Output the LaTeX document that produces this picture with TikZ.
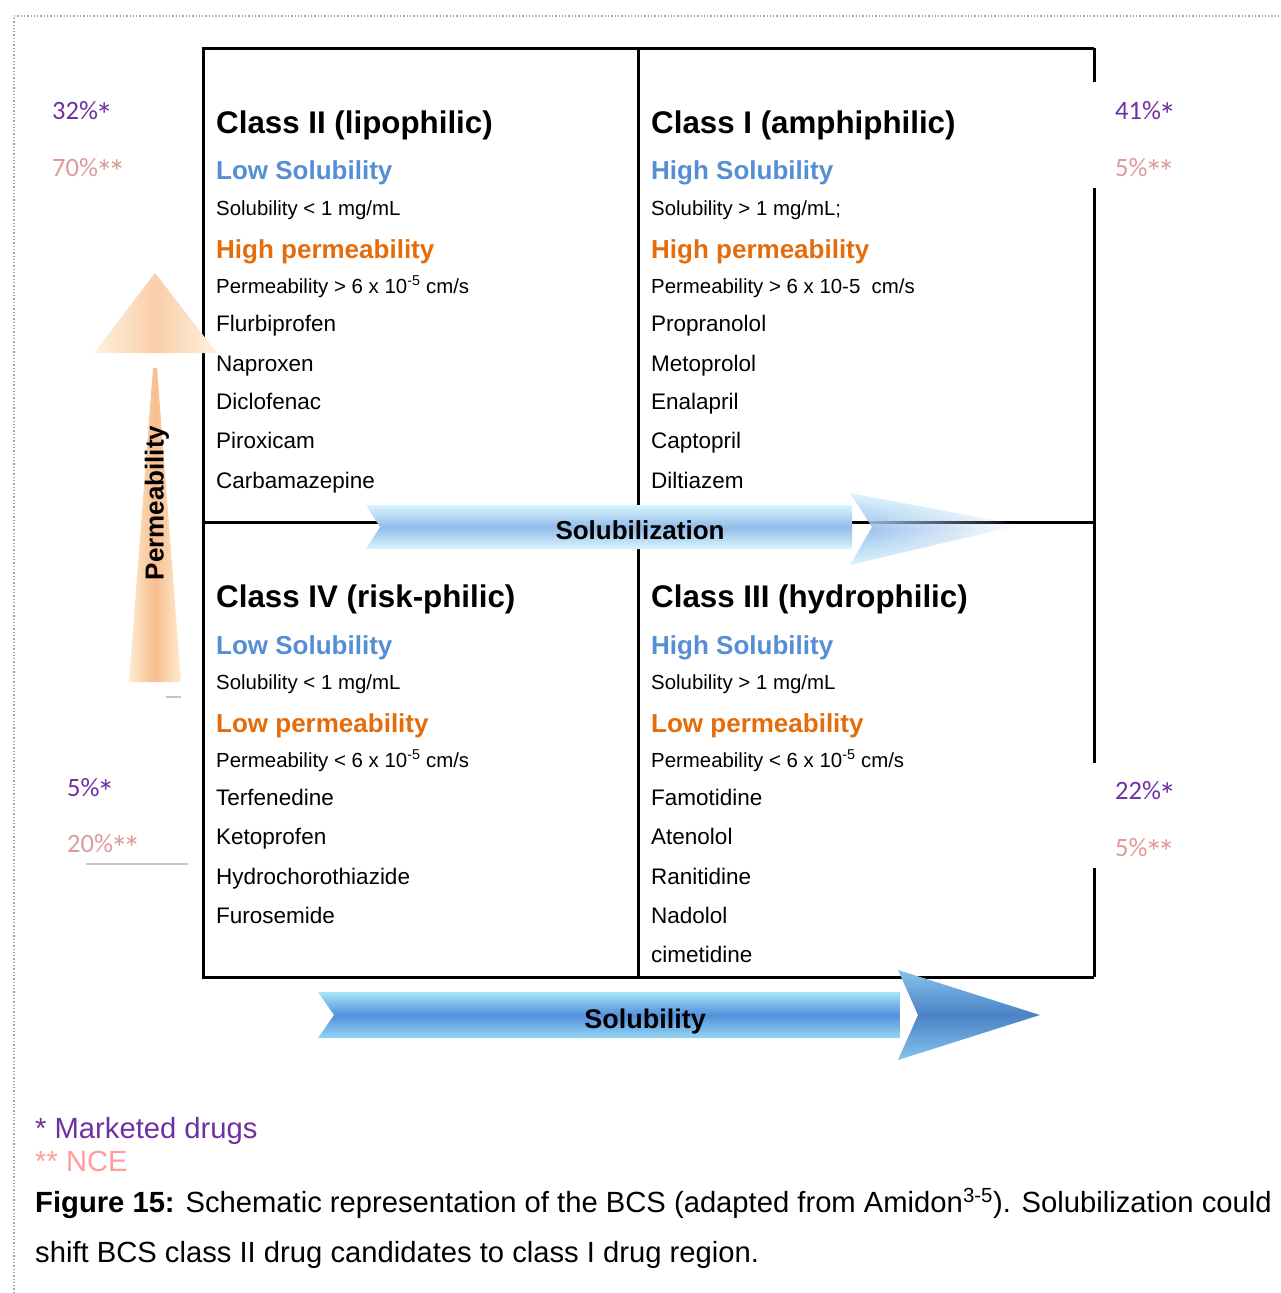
\documentclass[tikz,border=0pt]{standalone}
\usepackage{fontspec}
\setmainfont{Liberation Sans}
\newfontfamily\calib{Carlito}
\usetikzlibrary{fadings}
\definecolor{bluesub}{HTML}{558ED5}
\definecolor{orng}{HTML}{E46C0A}
\definecolor{purp}{HTML}{7030A0}
\definecolor{pinkp}{HTML}{DE9A99}
\definecolor{nce}{HTML}{FF9C9C}
\definecolor{zlight}{HTML}{DAF5FD}
\definecolor{zmid}{HTML}{92BBE9}
\definecolor{ylight}{HTML}{A5E6F8}
\definecolor{ymid}{HTML}{5390DC}
\definecolor{plight}{HTML}{FDEBD0}
\definecolor{pmid}{HTML}{F8BE8E}
\newcommand{\bigast}{\makebox[12.5pt]{\raisebox{-8.5pt}{\fontsize{35}{35}\selectfont *}}}
\begin{document}
\begin{tikzpicture}[x=1pt,y=-1pt,
  ttl/.style={anchor=base west,inner sep=0,font=\fontsize{31.3}{31.3}\selectfont\bfseries},
  bsub/.style={anchor=base west,inner sep=0,text=bluesub,font=\fontsize{26}{26}\selectfont\bfseries},
  osub/.style={anchor=base west,inner sep=0,text=orng,font=\fontsize{26}{26}\selectfont\bfseries},
  small/.style={anchor=base west,inner sep=0,font=\fontsize{20.4}{20.4}\selectfont},
  drug/.style={anchor=base west,inner sep=0,font=\fontsize{22.5}{22.5}\selectfont},
  pct/.style={anchor=base west,inner sep=0,text=purp,font=\calib\fontsize{26.5}{26.5}\selectfont},
  pctb/.style={anchor=base west,inner sep=0,text=pinkp,font=\calib\fontsize{26.5}{26.5}\selectfont},
  captext/.style={anchor=base west,inner sep=0,font=\fontsize{29.2}{29.2}\selectfont},
  gridline/.style={line width=3pt,black},
  arrlab/.style={inner sep=0,font=\fontsize{26}{26}\selectfont\bfseries}
]
\useasboundingbox (0,0) rectangle (1281,1293);
% dotted frame
\draw[gray!70,dotted,line width=1.3pt] (14,1293) -- (14,16) -- (1281,16);

% grid
\draw[gridline] (1094,48) -- (203,48) -- (203,977) -- (1094,977);
\draw[gridline] (1094,48) -- (1094,82);
\draw[gridline] (1094,188) -- (1094,763);
\draw[gridline] (1094,868) -- (1094,977);
\draw[gridline] (638,48) -- (638,977);
\draw[gridline] (203,522) -- (1094,522);

% small marks
\draw[gray!45,line width=1.5pt] (86,864) -- (188,864);
\draw[color={rgb,255:red,214;green,190;blue,170},line width=1.5pt] (166,697) -- (181,697);

% Quadrant II
\node[ttl] (t2) at (216,133) {Class II (lipophilic)};
\node[bsub] (s2) at (216,179) {Low Solubility};
\node[small] (l2a) at (216,215) {Solubility < 1 mg/mL};
\node[osub] (p2) at (216,258) {High permeability};
\node[small] (l2b) at (216,293) {Permeability > 6 x 10\textsuperscript{-5} cm/s};
\node[drug] (d2a) at (216,331) {Flurbiprofen};
\node[drug] (d2b) at (216,371) {Naproxen};
\node[drug] (d2c) at (216,409) {Diclofenac};
\node[drug] (d2d) at (216,448) {Piroxicam};
\node[drug] (d2e) at (216,488) {Carbamazepine};

% Quadrant I
\node[ttl] (t1) at (651,133) {Class I (amphiphilic)};
\node[bsub] (s1) at (651,179) {High Solubility};
\node[small] (l1a) at (651,215) {Solubility > 1 mg/mL;};
\node[osub] (p1) at (651,258) {High permeability};
\node[small] (l1b) at (651,293) {Permeability > 6 x 10-5\ \ cm/s};
\node[drug] (d1a) at (651,331) {Propranolol};
\node[drug] (d1b) at (651,371) {Metoprolol};
\node[drug] (d1c) at (651,409) {Enalapril};
\node[drug] (d1d) at (651,448) {Captopril};
\node[drug] (d1e) at (651,488) {Diltiazem};

% Quadrant IV
\node[ttl] (t4) at (216,607) {Class IV (risk-philic)};
\node[bsub] (s4) at (216,654) {Low Solubility};
\node[small] (l4a) at (216,689) {Solubility < 1 mg/mL};
\node[osub] (p4) at (216,732) {Low permeability};
\node[small] (l4b) at (216,767) {Permeability < 6 x 10\textsuperscript{-5} cm/s};
\node[drug] (d4a) at (216,805) {Terfenedine};
\node[drug] (d4b) at (216,844) {Ketoprofen};
\node[drug] (d4c) at (216,884) {Hydrochorothiazide};
\node[drug] (d4d) at (216,923) {Furosemide};

% Quadrant III
\node[ttl] (t3) at (651,607) {Class III (hydrophilic)};
\node[bsub] (s3) at (651,654) {High Solubility};
\node[small] (l3a) at (651,689) {Solubility > 1 mg/mL};
\node[osub] (p3) at (651,732) {Low permeability};
\node[small] (l3b) at (651,767) {Permeability < 6 x 10\textsuperscript{-5} cm/s};
\node[drug] (d3a) at (651,805) {Famotidine};
\node[drug] (d3b) at (651,844) {Atenolol};
\node[drug] (d3c) at (651,884) {Ranitidine};
\node[drug] (d3d) at (651,923) {Nadolol};
\node[drug] (d3e) at (651,962) {cimetidine};

% percentages
\node[pct] (q2a) at (52,119) {32\%\bigast};
\node[pctb] (q2b) at (52,176) {70\%\bigast\bigast};
\node[pct] (q1a) at (1115,119) {41\%\bigast};
\node[pctb] (q1b) at (1115,176) {5\%\bigast\bigast};
\node[pct] (q4a) at (67,796) {5\%\bigast};
\node[pctb] (q4b) at (67,852) {20\%\bigast\bigast};
\node[pct] (q3a) at (1115,799) {22\%\bigast};
\node[pctb] (q3b) at (1115,856) {5\%\bigast\bigast};

% Solubilization arrow
\shade[top color=zlight,bottom color=zlight,middle color=zmid]
  (366,505) -- (852,505) -- (852,549) -- (366,549) -- (380,527) -- cycle;
\shade[top color=zlight,bottom color=zlight,middle color=zmid,path fading=east]
  (850,493) -- (1020,525) -- (850,565) -- (872,527) -- cycle;
\node[arrlab] (solz) at (640,530) {Solubilization};

% Solubility arrow
\shade[top color=ylight,bottom color=ylight!80!ymid,middle color=ymid]
  (318,992) -- (900,992) -- (900,1038) -- (318,1038) -- (334,1015) -- cycle;
\shade[top color=ylight!60!ymid,bottom color=ylight!60!ymid,middle color=ymid!90!black]
  (898,970) -- (1040,1015) -- (898,1060) -- (918,1015) -- cycle;
\node[arrlab,font=\fontsize{27}{27}\selectfont\bfseries] (solb) at (645,1022) {Solubility};

% Permeability arrow
\shade[left color=plight,right color=plight,middle color=pmid]
  (153,368) -- (157,368) -- (181,682) -- (129,682) -- cycle;
\shade[left color=plight!70!white,right color=plight!70!white,middle color=pmid!75!white]
  (155,273) -- (217,353) -- (94,353) -- cycle;
\node[arrlab,rotate=90] (perm) at (157,503) {Permeability};

% caption
\node[captext,text=purp] (k1) at (35,1138) {* Marketed drugs};
\node[captext,text=nce] (k2) at (35,1171) {** NCE};
\node[captext] (c1) at (35,1212) {\textbf{Figure 15:} Schematic representation of the BCS (adapted from Amidon\textsuperscript{3-5}). Solubilization could};
\node[captext] (c2) at (35,1262) {shift BCS class II drug candidates to class I drug region.};
\end{tikzpicture}
\end{document}
